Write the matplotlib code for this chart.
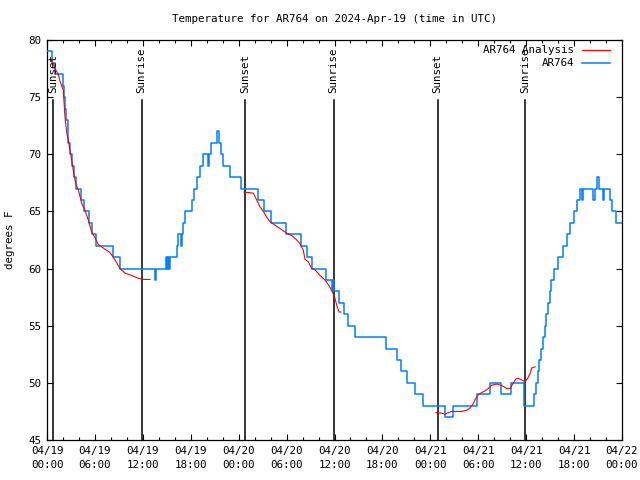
import matplotlib
matplotlib.use("Agg")
import matplotlib.pyplot as plt
from matplotlib.ticker import MultipleLocator

# ---- data (time in hours since 2024-04-19 00:00 UTC) ----
obs_t = [0, 0.63, 1.0, 2.0, 2.13, 2.25, 2.44, 2.57, 2.69, 2.88, 3.13, 3.38, 3.63, 4.26, 4.63,
         5.26, 5.63, 6.14, 8.26, 9.14, 13.52, 13.71, 14.9, 15.03, 15.15, 15.28, 15.4, 16.28,
         16.4, 16.78, 16.9, 17.03, 17.28, 18.16, 18.41, 18.78, 19.16, 19.53, 20.1, 20.28,
         20.54, 21.29, 21.54, 21.79, 22.04, 22.92, 24.29, 26.42, 27.17, 28.05, 29.93, 31.81,
         32.5, 33.18, 34.94, 35.69, 35.81, 35.94, 36.56, 37.19, 37.75, 38.57, 42.45, 43.83,
         44.33, 45.14, 46.02, 47.02, 49.84, 50.84, 53.84, 55.41, 56.91, 58.16, 59.67, 59.79,
         60.92, 61.24, 61.43, 61.61, 61.86, 62.11, 62.3, 62.48, 62.73, 62.98, 63.17, 63.49,
         63.99, 64.61, 65.11, 65.49, 65.99, 66.37, 66.74, 66.93, 67.12, 68.37, 68.56, 68.87,
         69.12, 69.56, 69.75, 70.5, 70.8, 71.3, 72.0]
obs_v = [79, 78, 77, 76, 75, 74, 73, 72, 71, 70, 69, 68, 67, 66, 65,
         64, 63, 62, 61, 60, 59, 60, 61, 60, 61, 60, 61, 62,
         63, 62, 63, 64, 65, 66, 67, 68, 69, 70, 69, 70,
         71, 72, 71, 70, 69, 68, 67, 66, 65, 64, 63, 62,
         61, 60, 59, 58, 59, 58, 57, 56, 55, 54, 53, 52,
         51, 50, 49, 48, 47, 48, 49, 50, 49, 50, 49, 48,
         49, 50, 51, 52, 53, 54, 55, 56, 57, 58, 59, 60,
         61, 62, 63, 64, 65, 66, 67, 66, 67, 66, 67, 68,
         67, 66, 67, 66, 65, 64, 64]

ana1_t = [0.59, 1.0, 1.41, 1.63, 2.04, 2.25, 2.47, 2.67, 2.88, 3.09, 3.29, 3.51, 3.72, 3.92,
          4.35, 4.76, 5.17, 5.6, 6.01, 6.42, 7.05, 7.89, 8.3, 8.73, 9.14, 9.77, 10.61, 11.43,
          12.06, 12.9]
ana1_v = [78.2, 77.5, 77.0, 76.4, 75.6, 73.3, 71.9, 71.25, 70.4, 69.5, 68.6, 67.75, 67.2, 66.9,
          65.7, 65.1, 64.25, 63.2, 62.7, 62.1, 61.8, 61.4, 61.0, 60.5, 60.0, 59.6, 59.4, 59.15,
          59.05, 59.05]
ana2_t = [24.67, 25.83, 26.26, 26.67, 27.09, 27.51, 27.92, 28.34, 28.76, 29.39, 30.02, 30.64,
          31.27, 31.68, 32.09, 32.31, 32.72, 33.15, 33.56, 34.18, 34.81, 35.22, 35.65, 36.06,
          36.28, 36.56, 36.81]
ana2_v = [66.7, 66.6, 66.0, 65.4, 65.0, 64.5, 64.1, 63.9, 63.7, 63.4, 63.1, 62.9,
          62.5, 62.2, 61.6, 60.8, 60.6, 60.0, 59.9, 59.4, 59.0, 58.6, 58.1, 57.4,
          56.8, 56.2, 56.2]
ana3_t = [48.71, 49.42, 49.84, 50.25, 50.68, 51.93, 52.55, 52.97, 53.31, 53.59, 54.01, 54.43,
          54.85, 55.26, 55.69, 56.31, 56.73, 57.14, 57.56, 57.98, 58.31, 58.73, 59.02, 59.44,
          59.85, 60.19, 60.48, 60.69, 61.11]
ana3_v = [47.4, 47.35, 47.25, 47.4, 47.5, 47.5, 47.6, 47.8, 48.1, 48.5, 48.95, 49.15,
          49.3, 49.5, 49.8, 49.9, 49.8, 49.7, 49.5, 49.5, 49.9, 50.35, 50.4, 50.25,
          50.1, 50.4, 50.8, 51.3, 51.4]

sun_t = [0.79, 11.86, 24.83, 35.9, 48.9, 59.89]
sun_lbl = ["Sunset", "Sunrise", "Sunset", "Sunrise", "Sunset", "Sunrise"]

xtick_pos = [0, 6, 12, 18, 24, 30, 36, 42, 48, 54, 60, 66, 72]
xtick_lbl = ["04/19\n00:00", "04/19\n06:00", "04/19\n12:00", "04/19\n18:00",
             "04/20\n00:00", "04/20\n06:00", "04/20\n12:00", "04/20\n18:00",
             "04/21\n00:00", "04/21\n06:00", "04/21\n12:00", "04/21\n18:00",
             "04/22\n00:00"]

title = "Temperature for AR764 on 2024-Apr-19 (time in UTC)"

# ---- plot ----
FONT = "DejaVu Sans Mono"
FS = 7.8
plt.rcParams["font.family"] = FONT
plt.rcParams["font.size"] = FS

fig = plt.figure(figsize=(6.4, 4.8), dpi=100)
ax = fig.add_axes([47/640, 40/480, 575/640, 400/480])

blue = "#0080ff"
red = "#ff0000"

ax.plot(obs_t, obs_v, drawstyle="steps-post", color=blue, lw=1.1, zorder=3)
for tt, vv in [(ana1_t, ana1_v), (ana2_t, ana2_v), (ana3_t, ana3_v)]:
    ax.plot(tt, vv, color=red, lw=0.8, zorder=4)

for st, sl in zip(sun_t, sun_lbl):
    ax.plot([st, st], [45, 74.75], color="black", lw=1.1, zorder=2)
    ax.text(st, 75.35, sl, rotation=90, ha="center", va="bottom", fontsize=FS, zorder=5)

ax.set_xlim(0, 72)
ax.set_ylim(45, 80)
ax.set_xticks(xtick_pos)
ax.set_xticklabels(xtick_lbl, linespacing=1.6)
ax.xaxis.set_minor_locator(MultipleLocator(2))
ax.set_yticks([45, 50, 55, 60, 65, 70, 75, 80])
ax.tick_params(axis="both", which="major", direction="in", length=4, width=0.8,
               top=True, right=True, labelsize=FS, pad=4)
ax.tick_params(axis="x", which="minor", direction="in", length=2.3, width=0.8,
               top=True, bottom=True)
for s in ax.spines.values():
    s.set_linewidth(0.9)

ax.set_ylabel("degrees F", fontsize=FS, labelpad=10)
fig.text(334/640, 1 - 19/480, title, ha="center", va="center", fontsize=FS)

# legend (gnuplot style: right-aligned text, sample to the right)
ax.text(0.9165, 0.975, "AR764 Analysis", transform=ax.transAxes, ha="right", va="center", fontsize=FS)
ax.plot([0.93, 0.979], [0.976, 0.976], transform=ax.transAxes, color=red, lw=0.9)
ax.text(0.9165, 0.9425, "AR764", transform=ax.transAxes, ha="right", va="center", fontsize=FS)
ax.plot([0.93, 0.979], [0.9425, 0.9425], transform=ax.transAxes, color=blue, lw=1.1)

fig.savefig("out.png", dpi=100)
